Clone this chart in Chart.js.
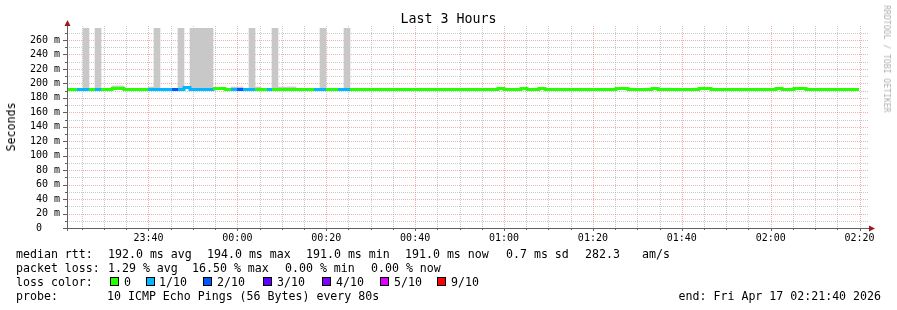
<!DOCTYPE html>
<html><head><meta charset="utf-8">
<script src="https://cdn.jsdelivr.net/npm/chart.js@4/dist/chart.umd.min.js"></script>
<style>
html,body{margin:0;padding:0;background:#fff;}
#wrap{position:relative;width:897px;height:310px;overflow:hidden;background:#fff;font-family:"DejaVu Sans Mono",monospace;color:#000;}
#c{position:absolute;left:0;top:0;}
.t{position:absolute;white-space:pre;font-size:11.6px;line-height:14px;}
.box{position:absolute;width:9px;height:9px;box-sizing:border-box;border:1px solid #000;}
#title{position:absolute;left:0;width:897px;top:11px;text-align:center;font-size:13.3px;line-height:16px;white-space:pre;}
#ylab{position:absolute;left:11px;top:127px;transform:translate(-50%,-50%) rotate(-90deg);font-size:11.6px;white-space:pre;}
#wm{position:absolute;left:887px;top:59px;transform:translate(-50%,-50%) rotate(90deg);font-size:8.1px;color:#b0b0b0;white-space:pre;}
</style></head><body>
<div id="wrap">
<canvas id="c" width="897" height="250"></canvas>
<div id="title"></div>
<div id="ylab"></div>
<div id="wm"></div>
</div>
<script>
// ---------------- DATA ----------------
const chartTitle = "Last 3 Hours";
const yAxisTitle = "Seconds";
const watermark = "RRDTOOL / TOBI OETIKER";
const viewStart = "23:21:40";          // left edge of the plot
const viewSeconds = 10800;             // 3 hours
const firstStepStart = "23:21:14";     // start of first 80 s step
const stepSec = 80;
const yMaxMs = 276.6;

const xTickLabels = ["23:40","00:00","00:20","00:40","01:00","01:20","01:40","02:00","02:20"];
const yTickLabels = ["0","20 m","40 m","60 m","80 m","100 m","120 m","140 m","160 m","180 m","200 m","220 m","240 m","260 m"];

// median RTT per step (ms)
const medianMs = [
 192,192,192,191,192,191,192,192,193,193,
 191,191,192,192,192,192,191,192,192,192,
 194,192,192,192,192,193,193,192,192,192,
 192,191,192,192,191,192,191,191,192,192,
 191,192,192,192,192,192,192,192,192,192,
 192,192,192,192,192,192,192,192,192,192,
 192,192,192,192,192,192,192,192,192,192,
 192,191,191,193,192,191,192,193,192,192,
 193,192,192,192,192,192,192,192,192,192,
 191,191,192,193,193,192,191,191,192,193,
 192,191,192,192,192,192,192,193,193,192,
 192,192,192,192,192,192,191,191,191,192,
 193,192,192,193,193,192,191,191,191,192,
 192,191,191,191
];
// packet loss per step (tenths)
const lossTenths = [
 0,0,1,1,0,1,0,0,0,0,
 0,0,0,0,1,1,1,1,2,1,
 1,1,1,1,1,0,0,0,1,2,
 1,1,0,0,1,0,0,0,0,0,
 0,0,1,1,0,0,1,1,0,0,
 0,0,0,0,0,0,0,0,0,0,
 0,0,0,0,0,0,0,0,0,0,
 0,0,0,0,0,0,0,0,0,0,
 0,0,0,0,0,0,0,0,0,0,
 0,0,0,0,0,0,0,0,0,0,
 0,0,0,0,0,0,0,0,0,0,
 0,0,0,0,0,0,0,0,0,0,
 0,0,0,0,0,0,0,0,0,0,
 0,0,0,0
];
// top of the smoke (ms) per step, null = hidden under the median line
const smokeTopMs = [
 null,null,null,290,null,290,null,null,196,196,
 null,null,null,null,195,290,null,null,null,290,
 null,290,290,290,290,null,null,null,195,195,
 null,290,195,null,null,290,195,195,195,null,
 null,null,null,290,null,null,null,290,null,null,
 null,null,null,null,null,null,null,null,null,null,
 null,null,null,null,null,null,null,null,null,null,
 null,null,null,null,null,null,null,null,null,null,
 null,null,null,null,null,null,null,null,null,null,
 null,null,null,null,null,null,null,null,null,null,
 null,null,null,null,null,null,null,null,null,null,
 null,null,null,null,null,null,null,null,null,null,
 null,null,null,null,null,null,null,null,null,null,
 null,null,null,null
];
const smokeBaseMs = 192;

const lossLevels = [0,1,2,3,4,5,9];
const lossLabels = ["0","1/10","2/10","3/10","4/10","5/10","9/10"];
const lossColors = ["#26ff00","#00b8ff","#0059ff","#5e00ff","#7e00ff","#dd00ff","#ff0000"];

const rttLabel = "median rtt:";
const rttStats = ["192.0 ms avg","194.0 ms max","191.0 ms min","191.0 ms now","0.7 ms sd","282.3","am/s"];
const lossLabel = "packet loss:";
const lossStats = ["1.29 % avg","16.50 % max","0.00 % min","0.00 % now"];
const colorLabel = "loss color:";
const probeLabel = "probe:";
const probeText = "10 ICMP Echo Pings (56 Bytes) every 80s";
const endText = "end: Fri Apr 17 02:21:40 2026";

// ---------------- LAYOUT ----------------
const rttX = [108,207,306,405,506,585,642];
const lossX = [108,192,285,371];
const boxX = [110,146,203,263,322,380,437];
const boxLabelX = [124,159,217,277,336,394,451];
const rowTop = [247,261,275,289];

// ---------------- helpers ----------------
function hms(s){const p=s.split(':').map(Number);return p[0]*3600+p[1]*60+(p[2]||0);}
const startTod = hms(viewStart);
function rel(clock){let d = hms(clock)-startTod; if(d< -43200) d+=86400; if(d>43200) d-=86400; return d;}
const firstStep = rel(firstStepStart);
function lossColor(t){let c=lossColors[0];lossLevels.forEach((l,i)=>{if(t>=l)c=lossColors[i];});return c;}

const linePts = medianMs.map((v,j)=>({x:firstStep+j*stepSec,y:v}));
linePts.push({x:firstStep+medianMs.length*stepSec,y:medianMs[medianMs.length-1]});
const smokePts = smokeTopMs.map((v,j)=>({x:firstStep+j*stepSec+stepSec/2,y:v==null?null:[smokeBaseMs,v]}));

const xMajor = xTickLabels.map(rel);
const xGrid = []; { const first = (startTod%300===0?0:(300-startTod%300)); for(let v=first; v<=viewSeconds; v+=300) xGrid.push(v); }
const yMajor = yTickLabels.map(l=>parseFloat(l));
const yGrid = []; for(let v=0; v<=yMaxMs; v+=10) yGrid.push(v);

// ---------------- text ----------------
document.getElementById('title').textContent = chartTitle;
document.getElementById('ylab').textContent = yAxisTitle;
document.getElementById('wm').textContent = watermark;
const wrap = document.getElementById('wrap');
function txt(s,x,y){const d=document.createElement('div');d.className='t';d.textContent=s;d.style.left=x+'px';d.style.top=y+'px';wrap.appendChild(d);return d;}
txt(rttLabel,16,rowTop[0]); rttStats.forEach((s,i)=>txt(s,rttX[i],rowTop[0]));
txt(lossLabel,16,rowTop[1]); lossStats.forEach((s,i)=>txt(s,lossX[i],rowTop[1]));
txt(colorLabel,16,rowTop[2]);
lossLabels.forEach((s,i)=>{const b=document.createElement('div');b.className='box';b.style.left=boxX[i]+'px';b.style.top=(rowTop[2]+2)+'px';b.style.background=lossColors[i];wrap.appendChild(b);txt(s,boxLabelX[i],rowTop[2]);});
txt(probeLabel,16,rowTop[3]); txt(probeText,107,rowTop[3]);
const e = txt(endText,0,rowTop[3]); e.style.left=''; e.style.right='16px';

// ---------------- plugins ----------------
const snapPlugin = {
  id:'rrdSnap',
  beforeDatasetsDraw(chart){
    chart.getSortedVisibleDatasetMetas().forEach(meta=>{
      if(meta.type==='line'){
        meta.data.forEach(el=>{el.x=Math.round(el.x); el.y=Math.round(el.y-0.5)+0.5;});
      } else if(meta.type==='bar'){
        meta.data.forEach(el=>{
          if(el.width==null||isNaN(el.y)) return;
          const l=Math.round(el.x-el.width/2), r=Math.round(el.x+el.width/2);
          el.x=(l+r)/2; el.width=r-l; el.y=Math.round(el.y); el.base=Math.round(el.base);
        });
      }
    });
  }
};
const gridPlugin = {
  id:'rrdGrid',
  beforeDatasetsDraw(chart){
    const {ctx, chartArea:a, scales:{x,y}} = chart;
    ctx.save(); ctx.lineWidth=1; ctx.setLineDash([1,1]);
    const drawV=(v,col)=>{const px=Math.round(x.getPixelForValue(v))+0.5;ctx.strokeStyle=col;ctx.beginPath();ctx.moveTo(px,a.top-2);ctx.lineTo(px,a.bottom);ctx.stroke();};
    const drawH=(v,col)=>{const py=Math.round(y.getPixelForValue(v))+0.5;ctx.strokeStyle=col;ctx.beginPath();ctx.moveTo(a.left,py);ctx.lineTo(a.right+2,py);ctx.stroke();};
    const minorCol='rgba(150,150,150,0.5)', majorCol='rgba(235,80,80,0.45)';
    xGrid.forEach(v=>{ if(!xMajor.includes(v)) drawV(v,minorCol); });
    yGrid.forEach(v=>{ if(!yMajor.includes(v)) drawH(v,minorCol); });
    xMajor.forEach(v=>drawV(v,majorCol));
    yMajor.forEach(v=>{ if(v>0) drawH(v,majorCol); });
    ctx.restore();
  }
};
const axesPlugin = {
  id:'rrdAxes',
  afterDatasetsDraw(chart){
    const {ctx, chartArea:a, scales:{x,y}} = chart;
    ctx.save(); ctx.setLineDash([]); ctx.lineWidth=1; ctx.strokeStyle='#606060';
    const lx=a.left+0.5, by=a.bottom+0.5;
    ctx.beginPath();
    ctx.moveTo(lx,a.bottom+3); ctx.lineTo(lx,a.top-2);
    ctx.moveTo(a.left-3,by); ctx.lineTo(a.right+2,by);
    yGrid.forEach(v=>{const py=Math.round(y.getPixelForValue(v))+0.5; const L=yMajor.includes(v)?4:2; ctx.moveTo(a.left-L,py); ctx.lineTo(a.left,py);});
    xGrid.forEach(v=>{const px=Math.round(x.getPixelForValue(v))+0.5; const L=xMajor.includes(v)?3:2; ctx.moveTo(px,a.bottom); ctx.lineTo(px,a.bottom+L);});
    ctx.stroke();
    ctx.fillStyle='#9a1c1c';
    ctx.beginPath(); ctx.moveTo(lx,a.top-8); ctx.lineTo(lx-3,a.top-2); ctx.lineTo(lx+3,a.top-2); ctx.closePath(); ctx.fill();
    ctx.beginPath(); ctx.moveTo(a.right+8,by); ctx.lineTo(a.right+2,by-3); ctx.lineTo(a.right+2,by+3); ctx.closePath(); ctx.fill();
    ctx.restore();
  }
};

// ---------------- chart ----------------
const monoFont = {family:'"DejaVu Sans Mono", monospace', size:10};
new Chart(document.getElementById('c'), {
  data:{datasets:[
    {type:'line', label:'median rtt', data:linePts, stepped:true, borderWidth:3, borderColor:lossColors[0],
     borderCapStyle:'butt', borderJoinStyle:'miter', pointRadius:0, fill:false, order:0,
     segment:{borderColor:c=>lossColor(lossTenths[c.p0DataIndex])}},
    {type:'bar', label:'smoke', data:smokePts, backgroundColor:'#c8c8c8', borderWidth:0,
     barPercentage:1, categoryPercentage:1, grouped:false, order:1}
  ]},
  options:{
    responsive:false, animation:false, devicePixelRatio:1,
    layout:{padding:{left:0,top:28,right:30,bottom:0}},
    plugins:{legend:{display:false}, tooltip:{enabled:false}, title:{display:false}},
    scales:{
      x:{type:'linear', min:0, max:viewSeconds, offset:false,
         afterFit(s){s.height=22;},
         afterBuildTicks(s){s.ticks = xMajor.map(v=>({value:v}));},
         grid:{display:false, drawTicks:false}, border:{display:false},
         ticks:{autoSkip:false, maxRotation:0, minRotation:0, padding:4, color:'#000', font:monoFont,
                callback:(v)=>{const i=xMajor.indexOf(v);return i>=0?xTickLabels[i]:'';}}},
      y:{type:'linear', min:0, max:yMaxMs,
         afterFit(s){s.width=67;},
         afterBuildTicks(s){s.ticks = yMajor.map(v=>({value:v}));},
         grid:{display:false, drawTicks:false}, border:{display:false},
         ticks:{padding:7, color:'#000', font:monoFont,
                callback:(v)=>{const i=yMajor.indexOf(v);return i>=0?yTickLabels[i].padEnd(4,' '):'';}}}
    }
  },
  plugins:[snapPlugin, gridPlugin, axesPlugin]
});
</script>
</body></html>
